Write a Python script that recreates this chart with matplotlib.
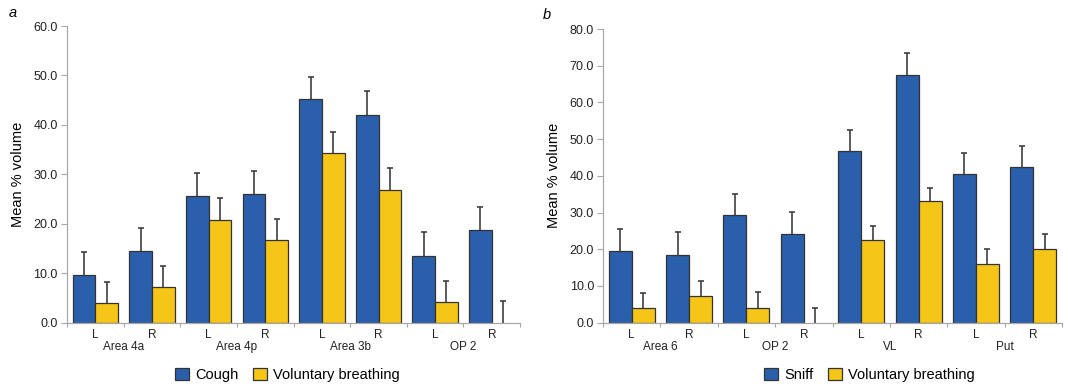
import matplotlib
matplotlib.use('Agg')
import matplotlib.pyplot as plt
from matplotlib.patches import Patch
import numpy as np

plt.rcParams['font.family'] = ['Liberation Sans', 'DejaVu Sans']

# panel a
sides = ['L', 'R', 'L', 'R', 'L', 'R', 'L', 'R']
groups_a = ['Area 4a', 'Area 4p', 'Area 3b', 'OP 2']
cough = [9.6, 14.6, 25.7, 26.0, 45.2, 42.1, 13.6, 18.8]
cough_err = [4.8, 4.6, 4.7, 4.7, 4.5, 4.8, 4.8, 4.6]
vb_a = [4.0, 7.3, 20.9, 16.8, 34.3, 26.9, 4.2, 0.0]
vb_a_err = [4.3, 4.2, 4.4, 4.3, 4.3, 4.4, 4.3, 4.4]

# panel b
groups_b = ['Area 6', 'OP 2', 'VL', 'Put']
sniff = [19.6, 18.5, 29.3, 24.1, 46.8, 67.4, 40.4, 42.4]
sniff_err = [5.8, 6.1, 5.8, 6.0, 5.7, 6.1, 5.8, 5.8]
vb_b = [3.9, 7.3, 4.1, 0.0, 22.4, 33.1, 15.9, 20.2]
vb_b_err = [4.1, 4.0, 4.2, 4.1, 4.0, 3.7, 4.1, 4.0]

blue = '#2a5fab'
yellow = '#f5c518'
edge = '#333333'
axis_gray = '#a8a8a8'


def draw_panel(ax, first, first_err, second, second_err, groups, ymax):
    x = np.arange(len(sides))
    w = 0.4
    for off, vals, errs, col in [(-w / 2, first, first_err, blue),
                                 (w / 2, second, second_err, yellow)]:
        lw = [0.9 if v > 0 else 0 for v in vals]
        ax.bar(x + off, vals, w, color=col, edgecolor=edge, linewidth=lw, zorder=2)
        # symmetric bars drawn behind, so only the upper half shows
        ax.errorbar(x + off, vals, yerr=errs, fmt='none', ecolor='#404040',
                    elinewidth=1.2, capsize=2.5, capthick=1.2, zorder=1)
    ax.set_xlim(-0.5, len(x) - 0.5)
    ax.set_ylim(0, ymax)
    ax.set_yticks(np.arange(0, ymax + 1, 10))
    ax.set_yticklabels([f'{v:.1f}' for v in np.arange(0, ymax + 1, 10)])
    ax.set_xticks(np.arange(len(x) + 1) - 0.5)
    ax.set_xticklabels([])
    ax.set_xticks(x, minor=True)
    ax.set_xticklabels(sides, minor=True)
    ax.tick_params(axis='x', which='major', length=3, color=axis_gray, width=0.8)
    ax.tick_params(axis='x', which='minor', length=0, pad=4.5, labelsize=8.5,
                   labelcolor='#222222')
    ax.tick_params(axis='y', length=4, color=axis_gray, width=0.8, pad=2.5,
                   labelsize=9, labelcolor='#222222')
    for s in ['top', 'right']:
        ax.spines[s].set_visible(False)
    for s in ['left', 'bottom']:
        ax.spines[s].set_color(axis_gray)
        ax.spines[s].set_linewidth(0.9)
        ax.spines[s].set_zorder(4)
    for i, g in enumerate(groups):
        ax.annotate(g, xy=(2 * i + 0.5, 0), xycoords=('data', 'axes fraction'),
                    xytext=(0, -17.6), textcoords='offset points',
                    ha='center', va='center', fontsize=8.5, color='#222222')
    ax.set_ylabel('Mean % volume', fontsize=10.5, labelpad=6)


fig = plt.figure(figsize=(10.68, 3.91), dpi=100)
ax_a = fig.add_axes([0.0627, 0.174, 0.4243, 0.7595])
ax_b = fig.add_axes([0.5646, 0.1747, 0.4298, 0.7511])

draw_panel(ax_a, cough, cough_err, vb_a, vb_a_err, groups_a, 60)
draw_panel(ax_b, sniff, sniff_err, vb_b, vb_b_err, groups_b, 80)

fig.text(0.008, 0.967, 'a', style='italic', fontsize=10.5, va='center')
fig.text(0.508, 0.962, 'b', style='italic', fontsize=10.5, va='center')

leg_kw = dict(ncol=2, frameon=False, fontsize=10.5, handlelength=1.0,
              handleheight=0.85, handletextpad=0.4, columnspacing=1.0,
              loc='center', borderaxespad=0)
fig.legend(handles=[Patch(facecolor=blue, edgecolor=edge, linewidth=0.9, label='Cough'),
                    Patch(facecolor=yellow, edgecolor=edge, linewidth=0.9,
                          label='Voluntary breathing')],
           bbox_to_anchor=(0.269, 0.041), **leg_kw)
fig.legend(handles=[Patch(facecolor=blue, edgecolor=edge, linewidth=0.9, label='Sniff'),
                    Patch(facecolor=yellow, edgecolor=edge, linewidth=0.9,
                          label='Voluntary breathing')],
           bbox_to_anchor=(0.814, 0.041), **leg_kw)

fig.savefig('out.png', dpi=100)
